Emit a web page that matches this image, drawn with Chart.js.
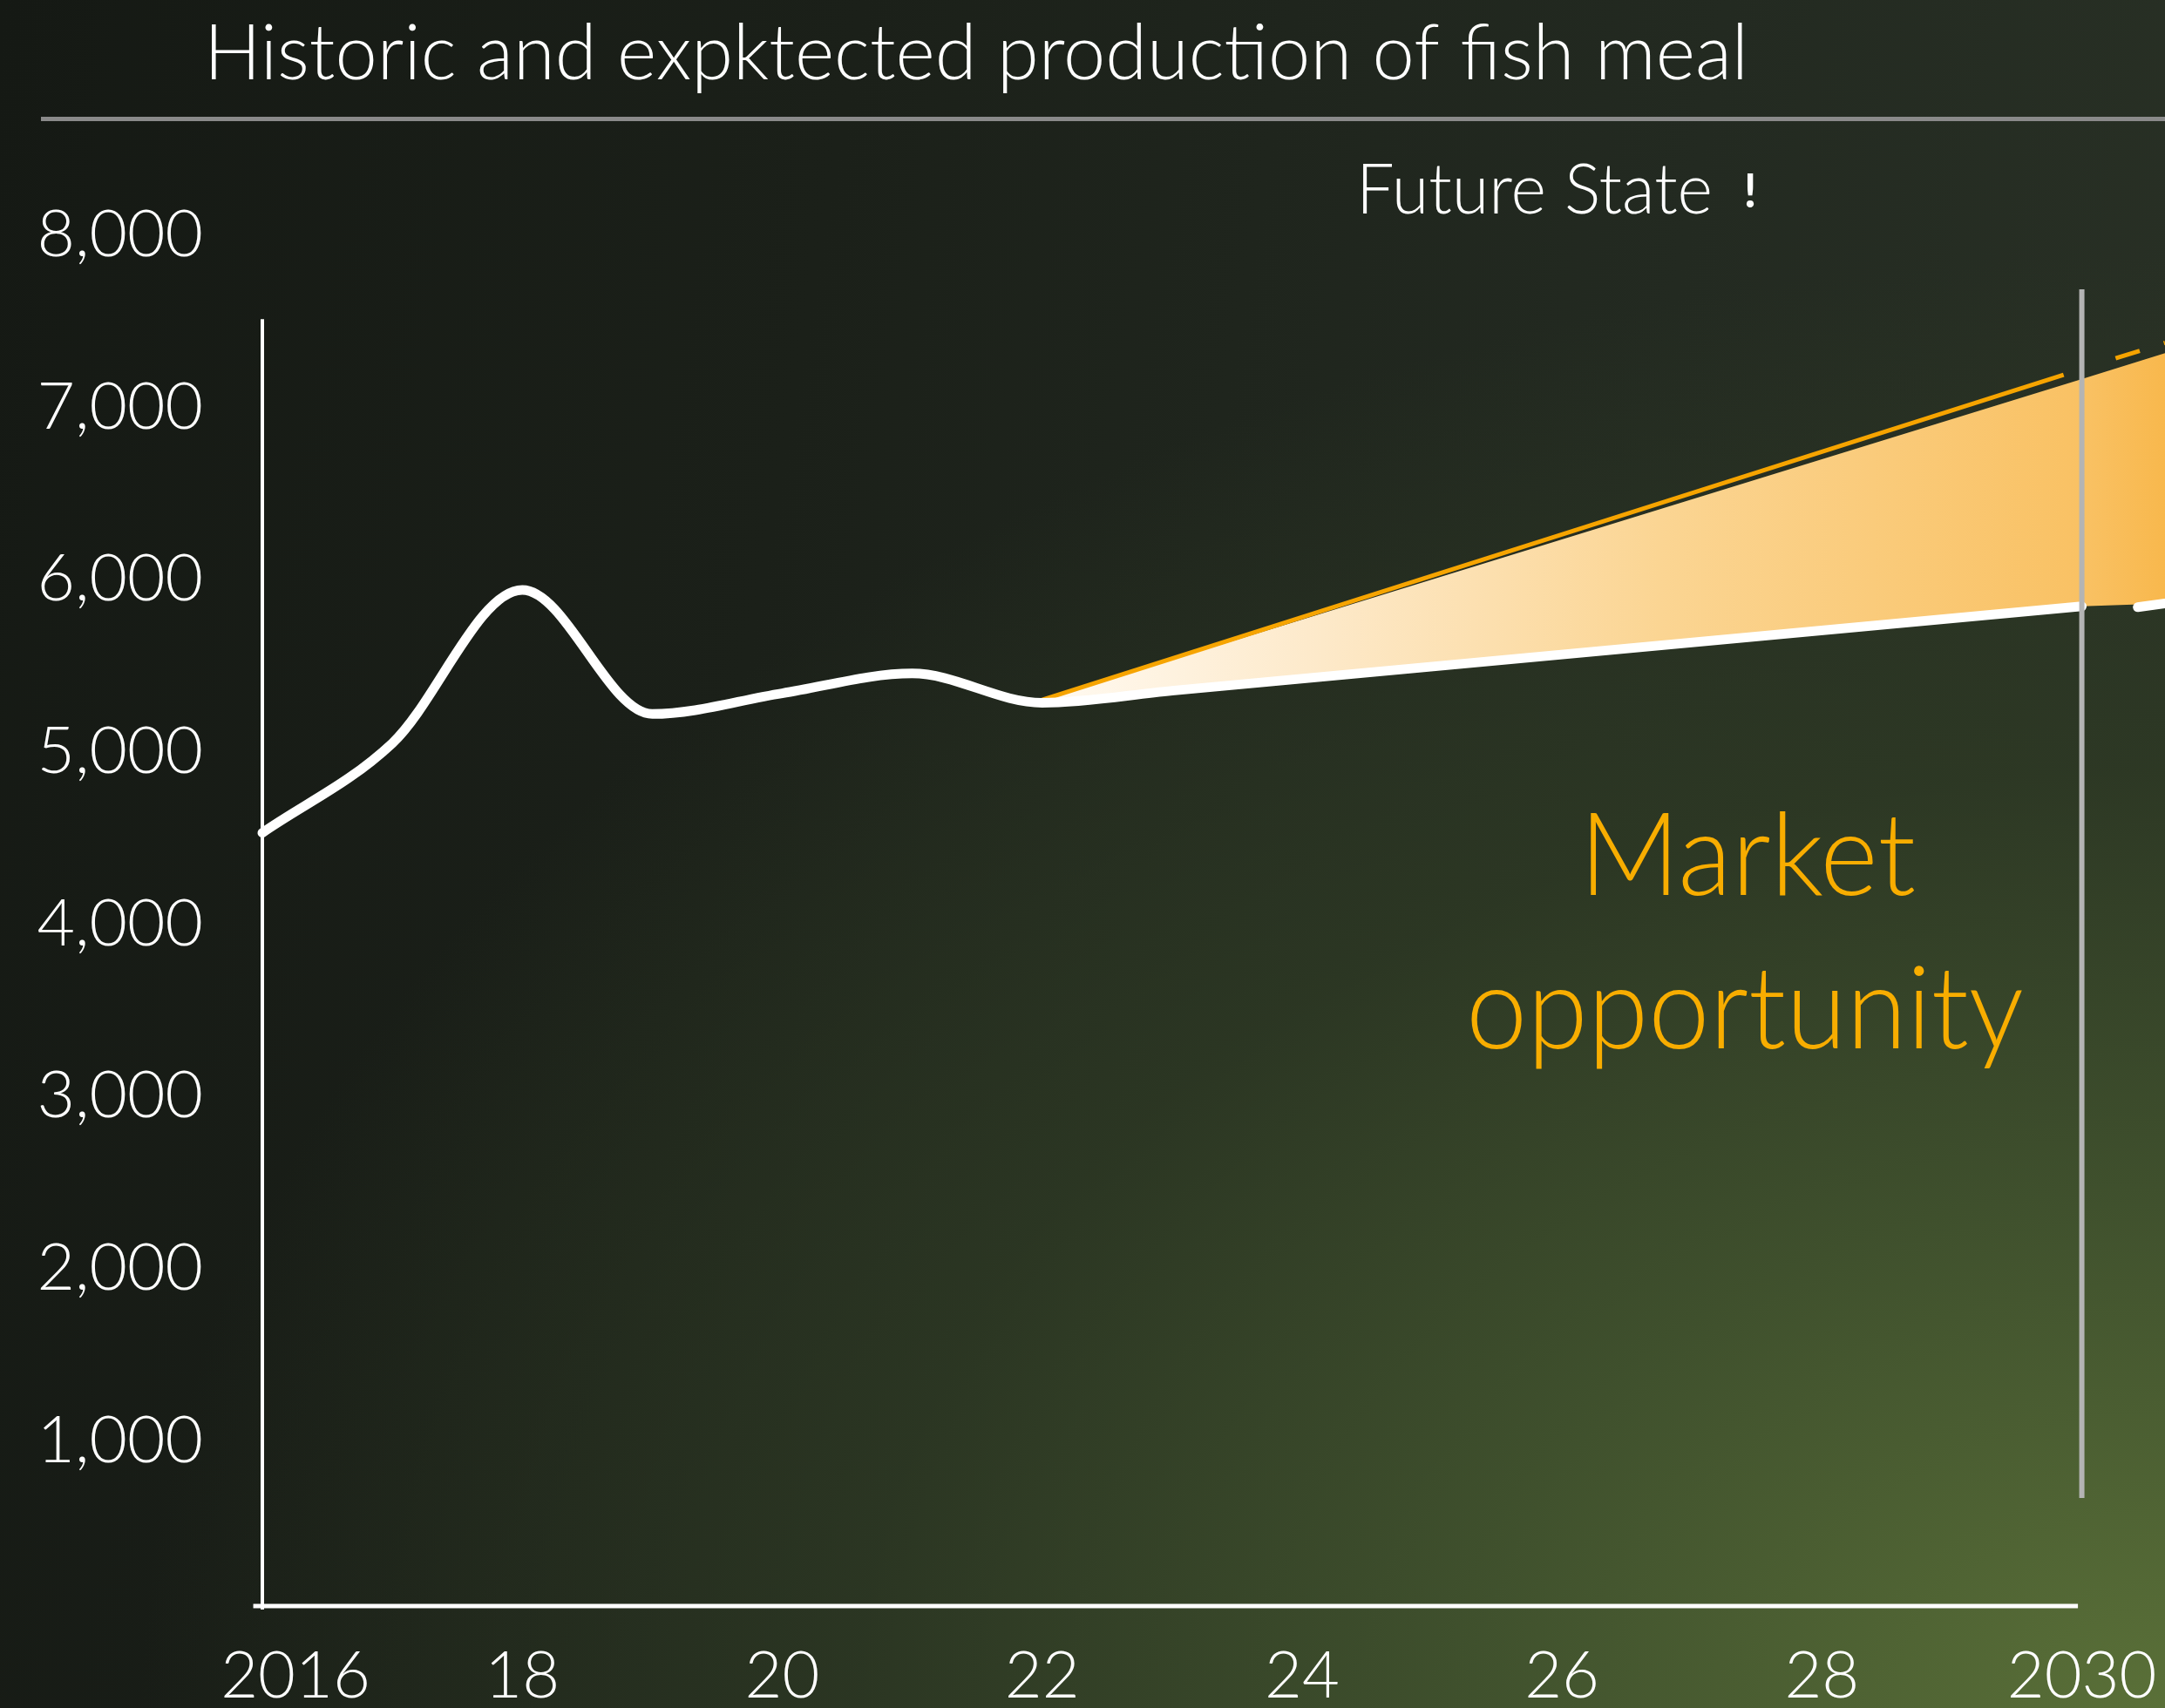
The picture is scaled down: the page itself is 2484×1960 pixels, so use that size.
<!DOCTYPE html>
<html>
<head>
<meta charset="utf-8">
<title>Historic and expected production of fish meal</title>
<script src="https://cdn.jsdelivr.net/npm/chart.js@4.4.1/dist/chart.umd.min.js"></script>
<style>
  html, body { margin: 0; padding: 0; width: 2484px; height: 1960px; overflow: hidden; }
  body {
    background:
      radial-gradient(ellipse 110% 100% at 100% 100%, rgba(90,112,56,1) 0%, rgba(66,84,46,0.9) 30%, rgba(46,58,36,0.8) 55%, rgba(30,38,28,0) 85%),
      linear-gradient(100deg, #151914 0%, #1b2019 35%, #232a21 70%, #2a3226 100%);
  }
  canvas { display: block; }
</style>
</head>
<body>
<canvas id="chart" width="2484" height="1960"></canvas>
<script>
// historic production + lower forecast (white line)
const YEARS = [2016, 2017, 2018, 2019, 2020, 2021, 2022, 2023, 2030];
const PRODUCTION = [4490, 5010, 5900, 5180, 5300, 5415, 5245, 5315, 5805];
// piece of the white line past the 2030 marker
const LOW_TAIL_YEARS = [2030.43, 2030.64];
const LOW_TAIL = [5800, 5822];
// upper forecast (orange line)
const HIGH_YEARS = [2022, 2029.86];
const HIGH = [5262, 7149];
const HIGH_TAIL_YEARS = [2030.26, 2030.64];
const HIGH_TAIL = [7245, 7335];
// market opportunity band
const BAND_YEARS = [2022, 2030, 2030.64];
const BAND_TOP = [5262, 7125, 7275];
const BAND_BASE_YEARS = [2022, 2023, 2030, 2030.64];
const BAND_BASE = [5245, 5315, 5805, 5822];
// 2030 marker
const MARKER_YEARS = [2030, 2030];
const MARKER = [7646, 628];
// axes
const X_TICKS = [2016, 2018, 2020, 2022, 2024, 2026, 2028, 2030];
const X_LABELS = ['2016', '18', '20', '22', '24', '26', '28', '2030'];
const Y_TICKS = [1000, 2000, 3000, 4000, 5000, 6000, 7000, 8000];

const pts = (xs, ys) => xs.map((x, i) => ({x: x, y: ys[i]}));

function bandFill(c) {
    const chart = c.chart;
    if (!chart.chartArea) return null;
    const xs = chart.scales.x;
    const g = chart.ctx.createLinearGradient(xs.getPixelForValue(2022), 0, xs.getPixelForValue(2030.64), 0);
    g.addColorStop(0, '#fffaf2');
    g.addColorStop(0.25, '#fde9c9');
    g.addColorStop(0.55, '#fbd593');
    g.addColorStop(0.93, '#f9c163');
    g.addColorStop(1, '#f8b84d');
    return g;
}

// draw text squeezed/stretched to a given width
function fitText(ctx, text, x, y, width, align) {
    const w = ctx.measureText(text).width;
    const sx = width / w;
    ctx.save();
    ctx.translate(x, y);
    ctx.scale(sx, 1);
    ctx.textAlign = align;
    ctx.fillText(text, 0, 0);
    ctx.restore();
}

const axisLines = {
    id: 'axisLines',
    beforeDatasetsDraw(chart) {
        const {ctx, scales: {x, y}} = chart;
        ctx.save();
        ctx.strokeStyle = '#ffffff';
        ctx.lineWidth = 4;
        ctx.beginPath();
        ctx.moveTo(x.getPixelForValue(2016), y.getPixelForValue(7473));
        ctx.lineTo(x.getPixelForValue(2016), y.getPixelForValue(0) + 4);
        ctx.stroke();
        ctx.lineWidth = 5;
        ctx.beginPath();
        ctx.moveTo(x.getPixelForValue(2015.93), y.getPixelForValue(0));
        ctx.lineTo(x.getPixelForValue(2029.97), y.getPixelForValue(0));
        ctx.stroke();
        ctx.restore();
    }
};

const texts = {
    id: 'texts',
    afterDraw(chart) {
        const {ctx, scales: {x}} = chart;
        ctx.save();
        ctx.textBaseline = 'alphabetic';
        ctx.fillStyle = '#ffffff';

        // title + rule
        ctx.font = '300 88px Lato';
        fitText(ctx, 'Historic and expktected production of fish meal', 234, 91, 1772, 'left');
        ctx.fillStyle = '#8a8a8a';
        ctx.fillRect(47, 134, 2437, 5);

        // future state
        ctx.fillStyle = '#ffffff';
        ctx.font = '300 80px Lato';
        fitText(ctx, 'Future State', 1556, 245, 409, 'left');
        ctx.font = '700 54px Lato';
        ctx.textAlign = 'center';
        ctx.fillText('!', 2008, 238);

        // x tick labels
        ctx.font = '300 74px Lato';
        X_TICKS.forEach((v, i) => {
            const shift = i === 0 ? 38 : 0;
            ctx.textAlign = 'center';
            ctx.fillText(X_LABELS[i], x.getPixelForValue(v) + shift, 1948);
        });

        // band label
        ctx.fillStyle = '#f8ad00';
        ctx.font = '300 132px Lato';
        fitText(ctx, 'Market', 2005, 1027, 386, 'center');
        fitText(ctx, 'opportunity', 2002, 1203, 640, 'center');
        ctx.restore();
    }
};

const whiteLine = {
    borderColor: '#ffffff',
    borderWidth: 11,
    borderCapStyle: 'round',
    borderJoinStyle: 'round',
    pointRadius: 0,
    fill: false,
    clip: false
};

new Chart(document.getElementById('chart'), {
    type: 'line',
    data: {
        datasets: [
            {
                data: pts(BAND_BASE_YEARS, BAND_BASE),
                borderColor: 'transparent',
                borderWidth: 0,
                pointRadius: 0,
                fill: false,
                order: 9
            },
            {
                data: pts(BAND_YEARS, BAND_TOP),
                borderColor: 'transparent',
                borderWidth: 0,
                pointRadius: 0,
                fill: {target: 0},
                backgroundColor: bandFill,
                order: 8
            },
            {
                data: pts(HIGH_YEARS, HIGH),
                borderColor: '#f6a400',
                borderWidth: 5,
                pointRadius: 0,
                fill: false,
                clip: false,
                order: 6
            },
            {
                data: pts(HIGH_TAIL_YEARS, HIGH_TAIL),
                borderColor: '#f6a400',
                borderWidth: 5,
                borderDash: [29, 29],
                pointRadius: 0,
                fill: false,
                clip: false,
                order: 5
            },
            Object.assign({
                data: pts(YEARS, PRODUCTION),
                cubicInterpolationMode: 'monotone',
                order: 3
            }, whiteLine),
            Object.assign({
                data: pts(LOW_TAIL_YEARS, LOW_TAIL),
                order: 2
            }, whiteLine),
            {
                data: pts(MARKER_YEARS, MARKER),
                borderColor: '#b4b4b4',
                borderWidth: 6,
                pointRadius: 0,
                fill: false,
                clip: false,
                order: 1
            }
        ]
    },
    options: {
        responsive: false,
        animation: false,
        devicePixelRatio: 1,
        layout: {
            padding: {top: 262, bottom: 117, left: 0, right: 0}
        },
        scales: {
            x: {
                type: 'linear',
                min: 2016,
                max: 2030.64,
                display: false
            },
            y: {
                type: 'linear',
                min: 0,
                max: 8000,
                position: 'left',
                grid: {display: false, drawTicks: false},
                border: {display: false},
                afterBuildTicks: s => { s.ticks = Y_TICKS.map(v => ({value: v})); },
                afterFit: s => { s.width = 301; },
                ticks: {
                    color: '#ffffff',
                    padding: 68,
                    labelOffset: 8,
                    font: {family: 'Lato', size: 75, weight: 300}
                }
            }
        },
        plugins: {
            legend: {display: false},
            tooltip: {enabled: false}
        }
    },
    plugins: [axisLines, texts]
});
</script>
</body>
</html>
